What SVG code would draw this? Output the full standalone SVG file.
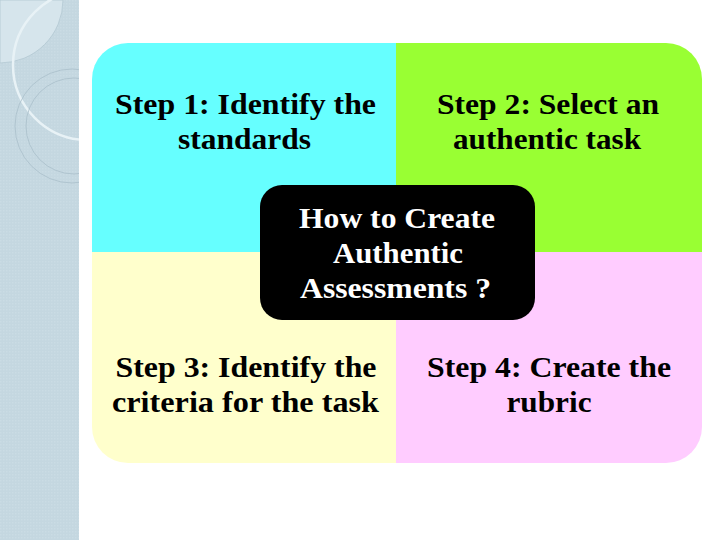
<svg xmlns="http://www.w3.org/2000/svg" width="720" height="540" viewBox="0 0 720 540">
<defs>
<style>
.t{font-family:"Liberation Serif","Times New Roman",serif;font-weight:bold;font-size:30px;text-anchor:middle;fill:#000}
.w{fill:#fff}
</style>
<pattern id="dots" width="3" height="3" patternUnits="userSpaceOnUse">
<rect width="3" height="3" fill="#c4d7e0"/>
<rect width="1.5" height="1.5" fill="#cadce4"/>
</pattern>
<clipPath id="sb"><rect x="0" y="0" width="79" height="540"/></clipPath>
<clipPath id="quad"><rect x="92" y="43" width="610" height="420" rx="36" ry="36"/></clipPath>
</defs>
<rect width="720" height="540" fill="#fff"/>
<g id="sidebar" clip-path="url(#sb)">
<rect x="0" y="0" width="79" height="540" fill="url(#dots)"/>
<path d="M0 0 H63 A63 63 0 0 1 0 63 Z" fill="#d6e5ec" stroke="#b3c8d2" stroke-width="0.8"/>
<circle cx="88" cy="65" r="75" fill="none" stroke="#e8f2f6" stroke-width="2.5"/>
<circle cx="72" cy="126" r="57" fill="none" stroke="#a9bfca" stroke-width="0.8"/>
<circle cx="74" cy="126" r="48" fill="none" stroke="#a9bfca" stroke-width="0.8"/>
</g>
<g id="quadrants" clip-path="url(#quad)">
<g id="step1"><rect x="92" y="43" width="304" height="209" fill="#66ffff"/></g>
<g id="step2"><rect x="396" y="43" width="306" height="209" fill="#99ff33"/></g>
<g id="step3"><rect x="92" y="252" width="304" height="211" fill="#ffffcc"/></g>
<g id="step4"><rect x="396" y="252" width="306" height="211" fill="#ffccff"/></g>
</g>
<g id="labels">
<text class="t" x="245.5" y="114" textLength="261" lengthAdjust="spacingAndGlyphs">Step 1: Identify the</text>
<text class="t" x="244.5" y="149" textLength="133" lengthAdjust="spacingAndGlyphs">standards</text>
<text class="t" x="548" y="114" textLength="222" lengthAdjust="spacingAndGlyphs">Step 2: Select an</text>
<text class="t" x="547" y="149" textLength="188" lengthAdjust="spacingAndGlyphs">authentic task</text>
<text class="t" x="246" y="377" textLength="261" lengthAdjust="spacingAndGlyphs">Step 3: Identify the</text>
<text class="t" x="245.5" y="412" textLength="267" lengthAdjust="spacingAndGlyphs">criteria for the task</text>
<text class="t" x="549" y="377" textLength="244" lengthAdjust="spacingAndGlyphs">Step 4: Create the</text>
<text class="t" x="549" y="412" textLength="85" lengthAdjust="spacingAndGlyphs">rubric</text>
</g>
<g id="center">
<rect x="260" y="185" width="275" height="135" rx="22" ry="22" fill="#000"/>
<text class="t w" x="397" y="228" textLength="196" lengthAdjust="spacingAndGlyphs">How to Create</text>
<text class="t w" x="398" y="263" textLength="130" lengthAdjust="spacingAndGlyphs">Authentic</text>
<text class="t w" x="395.5" y="298" textLength="191" lengthAdjust="spacingAndGlyphs">Assessments ?</text>
</g>
<g id="connectors"/>
</svg>
